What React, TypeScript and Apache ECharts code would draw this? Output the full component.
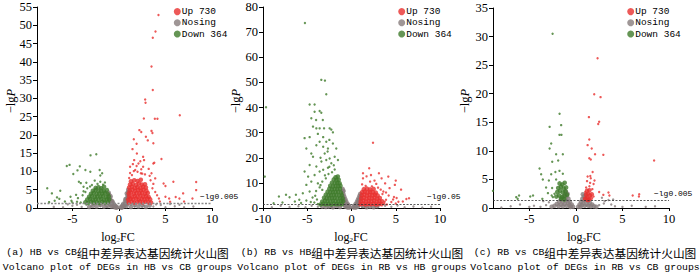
import React, { useEffect, useRef } from 'react';
import * as echarts from 'echarts';

const LEGEND_NAMES = ['Up 730', 'Nosing', 'Down 364'];
const Y_MAX = [55, 80, 35];
const Y_STEP = [5, 10, 5];
const X_MIN = [-8.8, -10, -8.9];
const X_MAX = [10, 10, 10];
const X_TICKS = [[-5, 0, 5, 10], [-10, -5, 0, 5, 10], [-5, 0, 5, 10]];
const THRESHOLD = [1.3, 1.3, 1.3];
const THRESHOLD_LABELS = ['−lg0.005', '−lg0.05', '−lg0.005'];
const CAPTION_TAG = ['(a) HB vs CB', '(b) RB vs HB', '(c) RB vs CB'];
const CAPTION_CN = ['组中差异表达基因统计火山图', '组中差异表达基因统计火山图', '组中差异表达基因统计火山图'];
const CAPTION_EN = [
  'Volcano plot of DEGs in HB vs CB groups',
  'Volcano plot of DEGs in RB vs HB groups',
  'Volcano plot of DEGs in RB vs CB groups',
];

// panel (a) HB vs CB : [log2FC, -lgP] pairs — scattered genes
const UP_A = [
  4.25, 52.8, 3.93, 48.3, 3.64, 46.6, 3.5, 38.7, 3.64, 32.3, 2.82, 29.7, 2.86, 28.8, 2.68, 24.5, 6.54, 25.4,
  3.86, 24.4, 4.14, 24.4, 2.2, 21.3, 2.4, 20.8, 3.5, 21.1, 3.6, 20.5, 2.9, 19.5, 1.6, 18.8, 1.9, 17.6, 3.1, 18.5,
  3.7, 17.7, 1.46, 16.1, 1.93, 14.9, 2.6, 14.0, 1.64, 13.1, 2.1, 12.2, 2.6, 11.3, 1.2, 11.3, 1.75, 10.4, 2.36, 9.5,
  1.4, 9.0, 3.7, 12.2, 4.57, 13.4, 3.8, 12.4, 3.5, 9.5, 3.9, 8.1, 4.8, 6.7, 5.85, 7.2, 8.3, 7.1, 8.3, 4.9, 6.9, 4.0,
  5.0, 3.1, 4.1, 3.5, 5.4, 2.6, 6.1, 3.0, 6.5, 2.6, 7.9, 2.6, 7.0, 1.8, 5.5, 1.7, 4.4, 1.8, 5.0, 6.0,
  1.2, 9.6, 1.6, 10.1, 2.0, 9.9, 2.4, 10.6, 2.8, 9.2, 1.9, 11.5, 2.3, 12.8, 3.2, 10.7, 1.5, 12.0, 2.7, 13.1,
  3.4, 7.6, 3.6, 5.4, 3.9, 4.4, 4.3, 2.6, 3.7, 6.6, 3.3, 8.8, 2.5, 9.4, 1.1, 8.2,
];
// dense core of the same groups
const UP_A_CORE = [
  1.05, 1.5, 1.35, 1.7, 1.65, 1.5, 1.95, 1.6, 2.25, 1.8, 2.55, 1.5, 2.85, 1.7, 3.15, 1.6, 3.45, 1.5,
  1.0, 2.3, 1.25, 2.5, 1.55, 2.3, 1.85, 2.6, 2.15, 2.3, 2.45, 2.5, 2.75, 2.3, 3.05, 2.6, 3.35, 2.4,
  1.1, 3.2, 1.4, 3.0, 1.7, 3.3, 2.0, 3.1, 2.3, 3.4, 2.6, 3.1, 2.9, 3.3, 3.2, 3.0,
  1.05, 4.0, 1.3, 4.2, 1.6, 3.9, 1.9, 4.1, 2.2, 4.0, 2.5, 4.2, 2.8, 3.9, 3.1, 4.1,
  1.15, 4.8, 1.45, 5.0, 1.75, 4.7, 2.05, 4.9, 2.35, 4.8, 2.65, 5.0, 2.95, 4.7,
  1.1, 5.6, 1.4, 5.8, 1.7, 5.5, 2.0, 5.7, 2.3, 5.5, 2.6, 5.8, 2.9, 5.6,
  1.2, 6.4, 1.5, 6.6, 1.85, 6.3, 2.15, 6.7, 2.45, 6.4, 2.8, 6.5,
  1.3, 7.3, 1.65, 7.6, 2.0, 7.4, 2.35, 7.7,
];
const DOWN_A = [
  -2.43, 14.7, -3.05, 14.4, -5.3, 11.8, -5.6, 11.5, -4.2, 11.4, -4.9, 9.3, -4.45, 10.3, -3.6, 10.4, -3.07, 9.9,
  -2.07, 10.4, -1.8, 9.5, -2.0, 8.9, -7.7, 5.4, -7.2, 4.0, -6.3, 4.7, -6.65, 2.9, -6.4, 2.5, -5.2, 3.1, -5.1, 2.0,
  -3.8, 5.8, -3.5, 6.9, -4.3, 7.2, -4.1, 6.8, -3.4, 5.4, -3.8, 4.6, -4.6, 3.6, -5.8, 1.8, -6.9, 2.0, -7.5, 1.6,
  -4.1, 1.5, -4.5, 1.7, -5.0, 1.5,
  -2.9, 6.3, -2.3, 6.6, -1.7, 6.4, -2.0, 7.2, -2.6, 7.5, -1.5, 7.0, -3.1, 5.9, -3.9, 3.5, -4.4, 2.7, -3.6, 4.4,
];
const DOWN_A_CORE = [
  -3.6, 1.6, -3.3, 1.4, -3.0, 1.7, -2.7, 1.5, -2.4, 1.6, -2.1, 1.4, -1.8, 1.7, -1.5, 1.5, -1.2, 1.6,
  -3.4, 2.3, -3.1, 2.5, -2.8, 2.2, -2.5, 2.4, -2.2, 2.3, -1.9, 2.5, -1.6, 2.2, -1.3, 2.4, -1.05, 2.3,
  -3.2, 3.1, -2.9, 3.3, -2.6, 3.0, -2.3, 3.2, -2.0, 3.1, -1.7, 3.3, -1.4, 3.0, -1.1, 3.2,
  -3.0, 3.9, -2.7, 4.1, -2.4, 3.8, -2.1, 4.0, -1.8, 3.9, -1.5, 4.1, -1.2, 3.8,
  -2.8, 4.7, -2.5, 4.9, -2.2, 4.6, -1.9, 4.8, -1.6, 4.6, -1.3, 4.9,
  -2.5, 5.5, -2.2, 5.7, -1.9, 5.4, -1.6, 5.8,
];
const NS_A = [
  -1.5, 0.8, -2.0, 0.5, -2.5, 1.0, -3.0, 0.4, -3.5, 0.9, -4.0, 0.3, -1.8, 1.1, -2.8, 0.9, -1.3, 0.3,
  1.3, 0.9, 1.7, 0.4, 2.2, 1.0, 2.7, 0.6, 3.2, 1.1, 3.7, 0.4, 4.5, 0.8, 5.0, 0.2, 1.5, 1.2, 2.5, 0.3,
  -5.0, 0.6, -6.0, 0.2, -7.0, 0.3, -5.5, 1.0, 6.0, 0.5, 7.0, 0.2, 8.0, 0.4, 5.5, 1.1, -4.5, 0.9, 4.0, 1.0, 6.5, 0.9,
];
const NS_A_CORE = [
  -0.2, 0.2, -0.35, 0.5, -0.3, 0.1, -0.5, 0.9, -0.5, 0.3, -0.65, 1.4, -0.65, 0.6, -0.8, 2.0, -0.8, 1.2, -0.8, 0.4,
  -0.95, 2.8, -0.95, 1.8, -0.95, 0.9, -1.05, 3.6, -1.05, 2.5, -0.9, 3.2, -0.7, 1.8, -0.45, 0.6, -1.1, 4.2,
  0.2, 0.2, 0.35, 0.6, 0.3, 0.1, 0.5, 1.1, 0.5, 0.4, 0.65, 1.7, 0.65, 0.8, 0.8, 2.5, 0.8, 1.5, 0.8, 0.5,
  0.92, 3.4, 0.92, 2.2, 0.92, 1.1, 0.98, 4.3, 0.98, 3.0, 0.85, 4.0, 0.7, 2.4, 0.45, 0.7, 1.0, 5.0,
  -1.2, 0.6, -1.6, 0.4, -2.0, 0.9, -2.4, 0.4, -2.8, 0.6, -3.2, 0.3, 1.3, 0.3, 1.7, 0.8, 2.1, 0.4, 2.5, 0.9, 2.9, 0.3, 3.3, 0.7,
];

// panel (b) RB vs HB
const UP_B = [
  2.43, 26.0, 2.0, 15.8, 1.3, 13.8, 2.2, 13.1, 3.1, 13.8, 3.4, 11.8, 2.1, 10.5, 2.6, 10.9, 1.3, 11.8, 3.8, 9.8,
  5.0, 10.9, 4.9, 9.2, 4.3, 7.9, 3.6, 6.6, 5.6, 7.3, 6.2, 3.6, 5.8, 2.6, 5.1, 4.0, 4.7, 3.4, 3.9, 3.3, 6.5, 3.9,
  5.3, 2.5, 4.16, 12.5, 1.7, 12.6,
  1.6, 8.8, 2.3, 8.6, 1.2, 9.4, 3.0, 8.1, 2.8, 9.6, 3.5, 5.6, 4.2, 5.0, 3.9, 6.2, 4.5, 2.4, 5.0, 1.8, 4.8, 4.4, 3.3, 7.3,
  3.7, 1.7, 4.0, 1.4, 3.75, 2.5,
];
const UP_B_CORE = [
  1.0, 1.5, 1.3, 1.7, 1.6, 1.4, 1.9, 1.6, 2.2, 1.5, 2.5, 1.7, 2.8, 1.4, 3.1, 1.6, 3.4, 1.5,
  1.05, 2.7, 1.35, 2.9, 1.65, 2.6, 1.95, 2.8, 2.25, 2.7, 2.55, 2.9, 2.85, 2.6, 3.15, 2.8, 3.45, 2.7,
  1.1, 3.9, 1.4, 4.1, 1.7, 3.8, 2.0, 4.0, 2.3, 3.9, 2.6, 4.1, 2.9, 3.8, 3.2, 4.0,
  1.15, 5.1, 1.45, 5.3, 1.75, 5.0, 2.05, 5.2, 2.35, 5.1, 2.65, 5.3, 2.95, 5.0,
  1.2, 6.3, 1.5, 6.5, 1.8, 6.2, 2.1, 6.4, 2.4, 6.3, 2.75, 6.1,
  1.4, 7.5, 1.75, 7.7, 2.1, 7.4, 2.5, 7.6,
];
const DOWN_B = [
  -5.26, 73.6, -3.41, 51.0, -3.0, 50.7, -2.85, 45.3, -9.66, 40.1, -9.8, 12.5,
  -4.73, 41.2, -4.17, 41.2, -4.17, 38.3, -3.41, 37.9, -3.6, 38.6, -4.54, 35.7, -4.0, 35.0, -3.24, 35.0,
  -4.35, 32.4, -3.97, 31.7, -3.6, 31.7, -3.1, 31.7, -2.47, 31.7, -3.8, 29.5, -3.2, 28.2, -2.28, 31.2, -2.1, 30.1,
  -5.3, 27.8, -4.73, 28.2, -2.85, 26.4, -2.5, 27.1, -2.1, 25.7, -3.6, 26.4, -3.2, 24.4, -2.66, 23.7, -1.72, 23.7,
  -5.1, 23.7, -4.54, 21.7, -4.35, 20.4, -3.97, 25.0, -3.03, 21.7, -2.47, 19.7, -1.9, 20.4, -5.3, 14.5, -4.73, 17.1,
  -3.97, 16.5, -3.4, 18.5, -2.85, 19.1, -2.28, 17.8, -1.53, 19.1, -4.9, 12.5, -4.17, 13.1, -3.6, 14.5, -3.2, 15.2,
  -2.66, 16.0, -5.1, 9.2, -4.54, 10.5, -3.8, 9.8, -5.5, 5.9, -4.73, 6.6, -6.28, 5.3, -8.2, 4.6, -7.4, 5.3, -7.0, 4.3,
  -5.9, 3.3, -6.4, 2.6, -5.1, 3.0, -4.4, 4.2, -7.8, 2.2, -8.8, 1.9, -5.7, 2.0, -4.6, 2.4,
  -2.6, 13.5, -2.9, 11.8, -3.3, 10.5, -3.6, 8.2, -4.0, 6.8, -3.3, 7.2, -2.2, 14.2, -1.9, 15.3, -3.0, 13.0, -2.5, 16.4,
  -4.2, 2.2, -3.9, 3.4, -3.8, 1.6, -4.1, 4.9, -3.5, 9.1, -2.7, 22.5, -3.5, 20.0, -2.0, 17.0,
];
const DOWN_B_CORE = [
  -3.5, 1.4, -3.2, 1.7, -2.9, 1.5, -2.6, 1.6, -2.3, 1.4, -2.0, 1.7, -1.7, 1.5, -1.4, 1.6, -1.1, 1.5,
  -3.3, 2.6, -3.0, 2.9, -2.7, 2.7, -2.4, 2.6, -2.1, 2.9, -1.8, 2.7, -1.5, 2.6, -1.2, 2.8, -0.95, 2.7,
  -3.1, 4.1, -2.8, 3.8, -2.5, 4.0, -2.2, 3.9, -1.9, 4.1, -1.6, 3.8, -1.3, 4.0, -1.0, 3.9,
  -2.9, 5.3, -2.6, 5.0, -2.3, 5.2, -2.0, 5.1, -1.7, 5.3, -1.4, 5.0, -1.1, 5.2,
  -2.7, 6.5, -2.4, 6.2, -2.1, 6.4, -1.8, 6.3, -1.5, 6.5, -1.2, 6.2,
  -2.5, 7.7, -2.2, 7.4, -1.9, 7.6, -1.6, 7.5, -1.3, 7.7,
  -2.4, 8.9, -2.1, 8.6, -1.8, 8.8, -1.5, 8.7, -1.25, 8.9,
  -2.2, 10.1, -1.9, 9.8, -1.6, 10.0, -1.35, 9.9,
  -2.0, 11.3, -1.7, 11.0, -1.45, 11.2,
  -1.8, 12.2, -1.55, 12.5,
];
const NS_B = [
  -1.5, 0.7, -2.2, 0.4, -3.0, 1.0, -3.8, 0.5, -4.5, 0.9, -5.2, 0.3, -6.0, 0.7, -7.0, 0.4, -8.0, 0.9, -9.0, 0.3,
  1.5, 0.6, 2.2, 1.0, 3.0, 0.4, 3.8, 0.9, 4.5, 0.5, 5.2, 1.0, 6.0, 0.3, 7.0, 0.6, 8.0, 0.2, 9.0, 0.5,
  -1.9, 1.1, -2.6, 0.2, 1.8, 0.2, 2.6, 0.8, -1.2, 0.9, 1.2, 0.4,
];
const NS_B_CORE = [
  -0.2, 0.3, -0.3, 0.9, -0.35, 0.2, -0.45, 1.7, -0.5, 0.8, -0.6, 2.6, -0.6, 1.4, -0.7, 3.5, -0.7, 2.0, -0.7, 0.6,
  -0.8, 4.4, -0.8, 2.9, -0.8, 1.3, -0.9, 5.4, -0.9, 3.8, -0.9, 2.2, -0.98, 6.5, -0.98, 4.8, -0.98, 3.1, -1.0, 7.6,
  -0.9, 6.8, -0.5, 0.3, -0.4, 1.2,
  0.2, 0.3, 0.3, 0.8, 0.35, 0.2, 0.45, 1.5, 0.5, 0.7, 0.6, 2.3, 0.6, 1.2, 0.7, 3.1, 0.7, 1.8, 0.7, 0.5,
  0.8, 3.9, 0.8, 2.6, 0.8, 1.2, 0.9, 4.8, 0.9, 3.3, 0.9, 1.8, 0.98, 5.6, 0.98, 4.2, 0.5, 0.2,
  -1.3, 0.4, -1.7, 0.8, -2.1, 0.3, -2.5, 0.7, -2.9, 0.4, -3.3, 0.6, 1.3, 0.8, 1.7, 0.3, 2.1, 0.6, 2.5, 0.3, 2.9, 0.7,
];

// panel (c) RB vs CB
const UP_C = [
  2.33, 26.2, 1.97, 19.9, 2.65, 19.4, 1.4, 15.9, 2.5, 15.1, 2.4, 14.7, 1.44, 12.0, 1.26, 11.0, 1.7, 10.4,
  2.06, 9.4, 2.95, 9.3, 8.4, 8.3, 1.44, 8.7, 1.6, 8.5, 1.8, 6.3, 1.26, 5.5, 1.6, 5.2, 1.2, 4.7, 1.53, 4.4,
  2.0, 4.8, 1.1, 3.6, 1.45, 3.8, 1.77, 3.3, 2.5, 2.8, 2.95, 2.3, 3.5, 2.7, 3.6, 2.2, 6.1, 2.2, 6.77, 2.0, 6.8, 2.4,
  1.9, 4.2, 1.55, 5.6, 1.9, 2.0, 1.0, 2.8,
];
const UP_C_CORE = [
  1.0, 1.6, 1.2, 1.8, 1.4, 1.5, 1.6, 1.7, 1.1, 2.3, 1.3, 2.5, 1.5, 2.2, 1.7, 2.4, 1.2, 3.0, 1.45, 3.1, 1.25, 1.4,
];
const DOWN_C = [
  -2.5, 30.5, -1.75, 16.5, -2.82, 14.2, -1.58, 14.5, -1.76, 12.8, -1.55, 12.8, -2.65, 11.3, -2.82, 10.4,
  -2.12, 9.4, -1.4, 9.4, -2.54, 8.1, -1.9, 8.3, -3.9, 6.9, -3.73, 5.9, -2.65, 5.9, -2.2, 6.3, -1.76, 6.5,
  -1.4, 6.0, -3.55, 5.0, -2.9, 4.8, -2.12, 5.0, -3.2, 3.6, -2.55, 3.5, -4.6, 2.2, -6.1, 2.2, -6.4, 1.9,
  -6.25, 1.6, -8.9, 3.0, -2.47, 1.9, -3.0, 2.6, -3.6, 1.6, -4.9, 2.0, -2.3, 2.5, -2.6, 2.2,
];
const DOWN_C_CORE = [
  -2.1, 2.0, -1.8, 2.2, -1.5, 1.9, -1.2, 2.1, -0.95, 2.3, -2.0, 2.8, -1.7, 3.0, -1.4, 2.7, -1.1, 2.9,
  -1.9, 3.5, -1.6, 3.7, -1.3, 3.4, -1.05, 3.6, -1.75, 4.3, -1.45, 4.1, -1.2, 4.4, -1.6, 1.6, -1.25, 1.5,
];
const NS_C = [
  -3.2, 0.5, -3.8, 0.2, -4.5, 0.4, -5.0, 0.2, -6.0, 0.6, -7.0, 0.3, -8.0, 0.1, 2.5, 0.5, 3.0, 0.8, 3.5, 1.4,
  3.8, 0.6, 4.2, 0.3, 5.0, 0.2, 6.0, 0.4, 7.5, 0.2, 8.5, 0.3, 2.8, 1.8, 3.1, 1.2, -2.9, 1.0, -3.5, 1.2, 4.0, 1.5,
];
const NS_C_CORE = [
  -0.3, 0.2, -0.45, 0.6, -0.55, 0.2, -0.65, 1.1, -0.7, 0.5, -0.8, 1.6, -0.85, 0.9, -0.95, 2.1, -1.0, 1.3,
  -1.0, 0.4, -1.15, 2.4, -1.2, 1.6, -1.2, 0.7, -1.35, 2.0, -1.4, 1.1, -1.4, 0.3, -1.6, 1.5, -1.6, 0.6,
  -1.8, 1.1, -1.85, 0.3, -2.05, 0.7, -2.3, 0.4, -2.6, 0.2, -0.9, 2.5, -1.1, 2.9, -0.6, 0.2,
  0.25, 0.2, 0.4, 0.6, 0.5, 0.2, 0.55, 1.1, 0.65, 0.5, 0.7, 1.6, 0.8, 0.9, 0.85, 2.0, 0.95, 1.3, 0.95, 0.4,
  1.05, 2.2, 1.15, 1.5, 1.15, 0.6, 1.3, 1.2, 1.35, 0.4, 1.5, 0.9, 1.6, 0.3, 1.75, 0.6, 1.95, 0.3, 2.2, 0.2,
  0.75, 2.4, 1.0, 1.8,
];

const UP_SETS = [UP_A, UP_B, UP_C];
const UP_CORES = [UP_A_CORE, UP_B_CORE, UP_C_CORE];
const DOWN_SETS = [DOWN_A, DOWN_B, DOWN_C];
const DOWN_CORES = [DOWN_A_CORE, DOWN_B_CORE, DOWN_C_CORE];
const NS_SETS = [NS_A, NS_B, NS_C];
const NS_CORES = [NS_A_CORE, NS_B_CORE, NS_C_CORE];

const C_UP = '#e8302e';
const C_NS = '#877c7c';
const C_DOWN = '#3e7b2b';

const GRIDS = [
  { left: 37, top: 7, width: 175, height: 201 },
  { left: 263, top: 7, width: 177, height: 201 },
  { left: 493, top: 8, width: 176, height: 200 },
];
const LEGEND_LEFT = [173.8, 398.2, 627.2];
const YNAME_X = [11, 236, 465];
const XNAME_X = [118, 351, 584];
const CAPTION_X = [117.5, 352, 585];
const THR_LABEL_POS = [[200, 196.5], [427, 196], [654, 193]];
const DOT = 2.4;
const CORE_DOT = 4.6;

const pairs = (a: number[]) => {
  const r: number[][] = [];
  for (let i = 0; i + 1 < a.length; i += 2) r.push([a[i], a[i + 1]]);
  return r;
};

const SERIF = 'Liberation Serif';
const MONO = 'Liberation Mono';

export default function App() {
  const ref = useRef<HTMLDivElement>(null);
  useEffect(() => {
    if (!ref.current) return;
    const chart = echarts.init(ref.current, undefined, { renderer: 'svg' });
    const xAxes: any[] = [];
    const yAxes: any[] = [];
    const series: any[] = [];
    const legends: any[] = [];
    const graphics: any[] = [];
    const sc = (name: string, i: number, data: number[], size: number, color: string, extra: any = {}) => ({
      type: 'scatter', name, xAxisIndex: i, yAxisIndex: i, data: pairs(data), symbolSize: size,
      itemStyle: { color }, emphasis: { disabled: true }, ...extra,
    });
    for (let i = 0; i < 3; i++) {
      xAxes.push({
        type: 'value', gridIndex: i, min: X_MIN[i], max: X_MAX[i],
        axisLine: { onZero: false, lineStyle: { color: '#000', width: 1 } },
        axisTick: { show: true, length: 3, customValues: X_TICKS[i], lineStyle: { color: '#000' } },
        axisLabel: { customValues: X_TICKS[i], color: '#000', fontFamily: SERIF, fontSize: 12.5, margin: 4 },
        splitLine: { show: false },
        axisPointer: { show: false },
      });
      yAxes.push({
        type: 'value', gridIndex: i, min: 0, max: Y_MAX[i], interval: Y_STEP[i],
        axisLine: { show: true, onZero: false, lineStyle: { color: '#000', width: 1 } },
        axisTick: { show: true, length: 4, lineStyle: { color: '#000' } },
        axisLabel: { color: '#000', fontFamily: SERIF, fontSize: 12.5, margin: 5 },
        splitLine: { show: false },
        axisPointer: { show: false },
      });
      series.push(sc('Nosing', i, NS_CORES[i], CORE_DOT, C_NS, {
        markLine: {
          silent: true, symbol: ['none', 'none'], label: { show: false },
          lineStyle: { type: [2, 1.5], color: i === 0 ? '#8a8a8a' : '#333', width: i === 0 ? 1.4 : 0.8 },
          data: [{ yAxis: THRESHOLD[i] }],
        },
      }));
      series.push(sc('Nosing', i, NS_SETS[i], DOT, C_NS));
      series.push(sc('Up 730', i, UP_CORES[i], CORE_DOT, C_UP));
      series.push(sc('Up 730', i, UP_SETS[i], DOT, C_UP));
      series.push(sc('Down 364', i, DOWN_CORES[i], CORE_DOT, C_DOWN));
      series.push(sc('Down 364', i, DOWN_SETS[i], DOT, C_DOWN));
      legends.push({
        left: LEGEND_LEFT[i], top: 6, orient: 'vertical', icon: 'circle', itemWidth: 7, itemHeight: 7,
        itemGap: 0, padding: 0, selectedMode: false, data: LEGEND_NAMES,
        textStyle: { fontFamily: MONO, fontSize: 9.5, color: '#000', lineHeight: 11.2, padding: [0, 0, 0, -4] },
      });
      graphics.push({
        type: 'text', x: YNAME_X[i], y: 101, rotation: Math.PI / 2,
        style: {
          text: '{n|−lg}{i|P}', align: 'center', verticalAlign: 'middle',
          rich: {
            n: { fontFamily: SERIF, fontSize: 12.5, fill: '#000' },
            i: { fontFamily: SERIF, fontSize: 12.5, fontStyle: 'italic', fill: '#000' },
          },
        },
      });
      graphics.push({
        type: 'text', x: XNAME_X[i], y: 237,
        style: {
          text: '{n|log}{s|2}{n|FC}', align: 'center', verticalAlign: 'middle',
          rich: {
            n: { fontFamily: SERIF, fontSize: 12, fill: '#000' },
            s: { fontFamily: SERIF, fontSize: 7, fill: '#000', padding: [6, 0, 0, 0] },
          },
        },
      });
      graphics.push({
        type: 'text', x: CAPTION_X[i], y: 252,
        style: {
          text: '{m|' + CAPTION_TAG[i] + '}{c|' + CAPTION_CN[i] + '}', align: 'center', verticalAlign: 'middle',
          rich: {
            m: { fontFamily: MONO, fontSize: 9.8, fill: '#000' },
            c: { fontFamily: 'Noto Sans CJK SC', fontSize: 11.7, fill: '#000' },
          },
        },
      });
      graphics.push({
        type: 'text', x: CAPTION_X[i], y: 267,
        style: {
          text: CAPTION_EN[i], align: 'center', verticalAlign: 'middle',
          font: '9.8px "Liberation Mono"', fill: '#000',
        },
      });
      graphics.push({
        type: 'text', x: THR_LABEL_POS[i][0], y: THR_LABEL_POS[i][1],
        style: {
          text: THRESHOLD_LABELS[i], align: 'left', verticalAlign: 'middle',
          font: '8px "Liberation Mono"', fill: '#000',
        },
      });
    }
    chart.setOption({
      animation: false,
      backgroundColor: '#fff',
      grid: GRIDS,
      xAxis: xAxes,
      yAxis: yAxes,
      legend: legends,
      series,
      graphic: graphics,
    });
    return () => chart.dispose();
  }, []);
  return (
    <div
      ref={ref}
      style={{ position: 'fixed', left: 0, top: 0, width: 700, height: 275, background: '#fff' }}
    />
  );
}
